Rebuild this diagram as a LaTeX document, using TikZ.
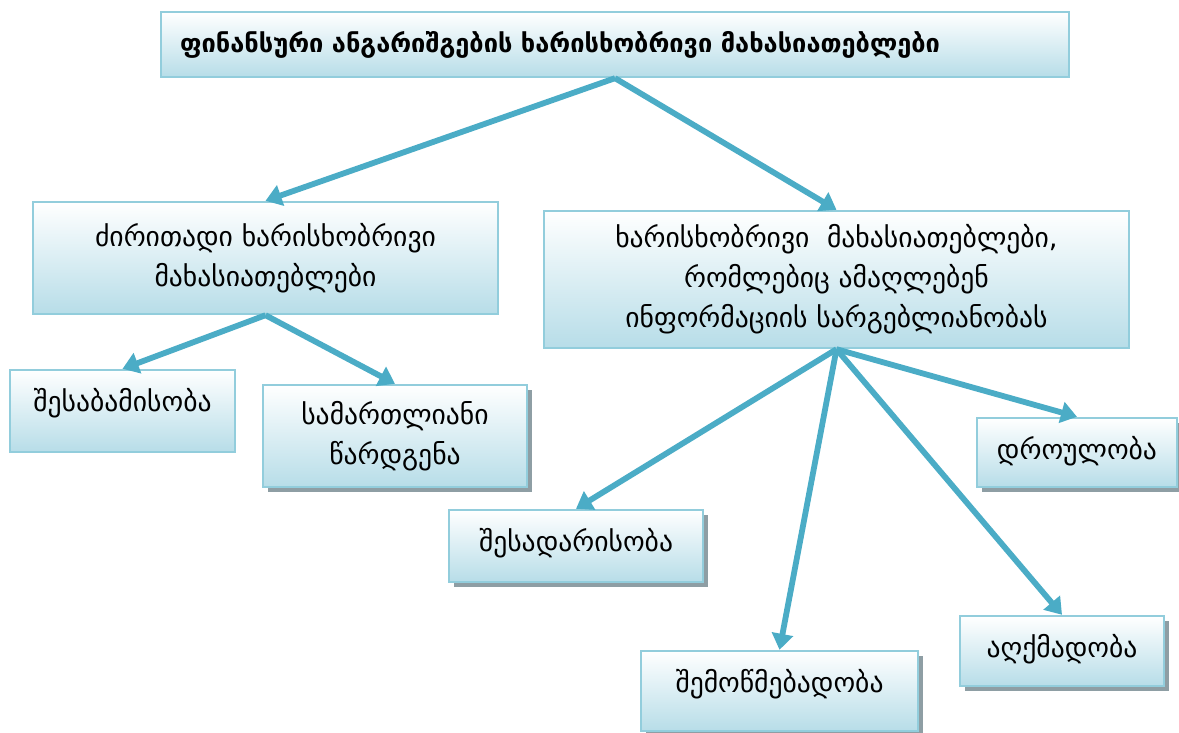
\documentclass[tikz,border=0pt]{standalone}
\usepackage{fontspec}
\setmainfont{DejaVu Sans}
\usetikzlibrary{arrows.meta, shadows}
\definecolor{arrowblue}{HTML}{4BACC6}
\definecolor{edgeblue}{HTML}{92CDDC}
\definecolor{fillblue}{HTML}{B7DDE8}
\definecolor{shadegray}{HTML}{8E9EA4}

\begin{document}
\begin{tikzpicture}[x=0.5pt, y=-0.5pt,
    box/.style={draw=edgeblue, line width=1.2pt, top color=white, bottom color=fillblue,
        align=center, inner sep=0pt, font=\fontsize{13.8}{20}\selectfont},
    shbox/.style={box, drop shadow={shadow xshift=2.5pt, shadow yshift=-2.5pt, fill=shadegray, opacity=1}},
    link/.style={draw=arrowblue, line width=2.9pt, -{Triangle[width=10.5pt,length=8pt]}}]
    \useasboundingbox (0,0) rectangle (1179,733);

    % Top box
    \node[box, minimum width=454pt, minimum height=32.5pt, text width=435pt, align=left,
        font=\bfseries\fontsize{12.7}{14}\selectfont] (title) at (615,44.5)
        {ფინანსური ანგარიშგების ხარისხობრივი მახასიათებლები};

    % Second level
    \node[box, minimum width=232.5pt, minimum height=56pt] (basic) at (265.5,258)
        {ძირითადი ხარისხობრივი\\მახასიათებლები};
    \node[box, minimum width=292.5pt, minimum height=68.5pt] (enhance) at (836.5,279.5)
        {ხარისხობრივი~~მახასიათებლები,\\რომლებიც ამაღლებენ\\ინფორმაციის სარგებლიანობას};

    % Under the left box
    \node[box, minimum width=112.5pt, minimum height=41pt, text depth=11pt] (relevance) at (122.5,411)
        {შესაბამისობა};
    \node[shbox, minimum width=132pt, minimum height=51pt] (faithful) at (395,436)
        {სამართლიანი\\წარდგენა};

    % Under the right box
    \node[shbox, minimum width=127pt, minimum height=36pt, text depth=6pt] (compare) at (576,546)
        {შესადარისობა};
    \node[shbox, minimum width=138.5pt, minimum height=40pt, text depth=10pt] (verify) at (779.5,691)
        {შემოწმებადობა};
    \node[shbox, minimum width=102pt, minimum height=35pt, text depth=5pt] (understand) at (1062,651)
        {აღქმადობა};
    \node[shbox, minimum width=100pt, minimum height=34.5pt, text depth=5pt] (timely) at (1077,452.5)
        {დროულობა};

    % Arrows
    \draw[link] (title.south) -- (basic.north);
    \draw[link] (title.south) -- (enhance.north);
    \draw[link] (basic.south) -- (relevance.north);
    \draw[link] (basic.south) -- (faithful.north);
    \draw[link] (enhance.south) -- (compare.north);
    \draw[link] (enhance.south) -- (verify.north);
    \draw[link] (enhance.south) -- (understand.north);
    \draw[link] (enhance.south) -- (timely.north);
\end{tikzpicture}
\end{document}
